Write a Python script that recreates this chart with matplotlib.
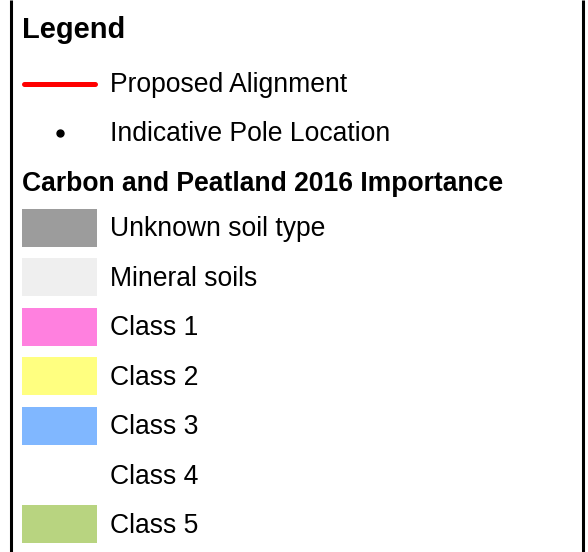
import matplotlib
matplotlib.use("Agg")
import matplotlib.pyplot as plt
from matplotlib.patches import Rectangle

plt.rcParams['font.family'] = ['Liberation Sans', 'DejaVu Sans']

title = "Legend"
line_label = "Proposed Alignment"
line_color = "#ff0000"
point_label = "Indicative Pole Location"
point_color = "#000000"
section_title = "Carbon and Peatland 2016 Importance"
class_labels = ["Unknown soil type", "Mineral soils", "Class 1", "Class 2",
                "Class 3", "Class 4", "Class 5"]
class_colors = ["#9c9c9c", "#efefef", "#ff80df", "#ffff80",
                "#80b7ff", None, "#b8d480"]

W, H = 588, 552
fig = plt.figure(figsize=(W / 100, H / 100), dpi=100)
ax = fig.add_axes([0, 0, 1, 1])
ax.set_xlim(0, W)
ax.set_ylim(H, 0)
ax.axis("off")

# frame (left & right borders)
ax.plot([11, 11], [0, H], color="black", lw=2.2, solid_capstyle="butt")
ax.plot([583, 583], [0, H], color="black", lw=2.2, solid_capstyle="butt")

x_sym0, x_sym1, x_text = 22, 97, 110
fs = 19.1
dy = 1.5

ax.text(22, 28 + dy, title, fontsize=20.9, fontweight="bold", va="center", ha="left")

y0 = 83.5
step = 49.4
ax.plot([x_sym0 + 2, x_sym1 - 2], [y0, y0], color=line_color, lw=3.6,
        solid_capstyle="round")
ax.text(x_text, y0 + dy, line_label, fontsize=fs, va="center", ha="left")

y1 = y0 + step
ax.plot([59.5], [y1], marker="o", ms=5, color=point_color, ls="none")
ax.text(x_text, y1 + dy, point_label, fontsize=fs, va="center", ha="left")

y2 = y1 + step
ax.text(22, y2 + dy, section_title, fontsize=fs, fontweight="bold", va="center", ha="left")

sw_h = 38
for i, (lab, col) in enumerate(zip(class_labels, class_colors)):
    yc = 228 + i * step
    if col is not None:
        ax.add_patch(Rectangle((x_sym0, yc - sw_h / 2), x_sym1 - x_sym0, sw_h,
                               facecolor=col, edgecolor="none"))
    ax.text(x_text, yc + dy, lab, fontsize=fs, va="center", ha="left")

fig.savefig("out.png", dpi=100)
